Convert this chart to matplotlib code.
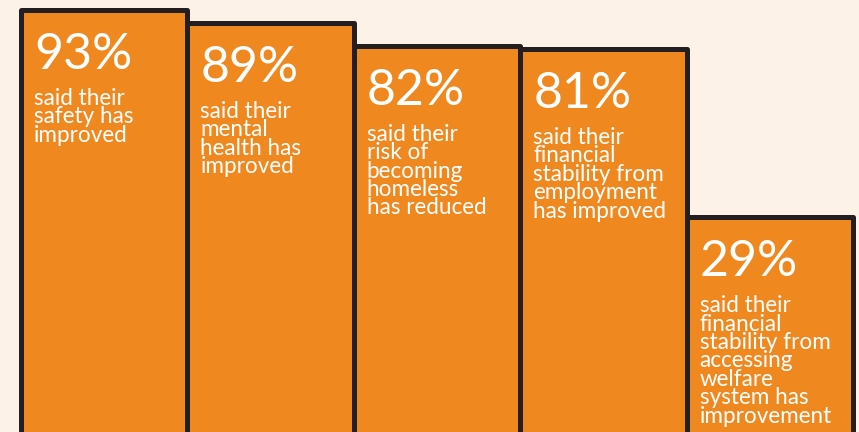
import matplotlib
matplotlib.use("Agg")
import matplotlib.pyplot as plt

values = [93, 89, 82, 81, 29]
labels = ["93%", "89%", "82%", "81%", "29%"]
descriptions = [
    "said their\nsafety has\nimproved",
    "said their\nmental\nhealth has\nimproved",
    "said their\nrisk of\nbecoming\nhomeless\nhas reduced",
    "said their\nfinancial\nstability from\nemployment\nhas improved",
    "said their\nfinancial\nstability from\naccessing\nwelfare\nsystem has\nimprovement",
]

BG = "#FDF2E8"
ORANGE = "#F08820"
EDGE = "#231F20"

DPI = 72
fig = plt.figure(figsize=(859 / DPI, 432 / DPI), dpi=DPI, facecolor=BG)
ax = fig.add_axes([0, 0, 1, 1])
ax.set_facecolor(BG)

bottom = -60
for i, v in enumerate(values):
    ax.bar(i, v - bottom, bottom=bottom, width=1.0, color=ORANGE,
           edgecolor=EDGE, linewidth=5, joinstyle="round", zorder=2 + i)
    ax.annotate(labels[i], xy=(i - 0.5, v), xytext=(13, -22),
                textcoords="offset points", ha="left", va="top",
                fontsize=50, color="white", family="Lato", weight="normal",
                zorder=10)
    ax.annotate(descriptions[i], xy=(i - 0.5, v), xytext=(13, -78),
                textcoords="offset points", ha="left", va="top",
                fontsize=22.5, color="white", family="Lato", weight="normal",
                linespacing=0.85, zorder=10)

ax.set_xlim(-0.626, 4.536)
ax.set_ylim(-37.4, 96.1)
ax.axis("off")

fig.savefig("out.png", dpi=DPI, facecolor=BG)
